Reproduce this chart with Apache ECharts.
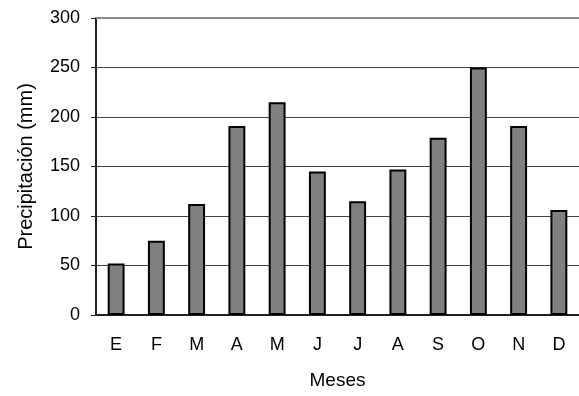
<!DOCTYPE html>
<html><head><meta charset="utf-8">
<script src="https://cdn.jsdelivr.net/npm/echarts@6/dist/echarts.min.js"></script>
<style>html,body{margin:0;padding:0;background:#fff}#c{width:579px;height:396px}</style>
</head><body><div id="c"></div>
<script>
const categories = ['E','F','M','A','M','J','J','A','S','O','N','D'];
const precipitation = [52, 75, 112, 191, 215, 145, 115, 147, 179, 250, 191, 106];
const yTicks = [0, 50, 100, 150, 200, 250, 300];

const chart = echarts.init(document.getElementById('c'));
const font = 'Liberation Sans, Arial, sans-serif';
chart.setOption({
  animation: false,
  backgroundColor: '#fff',
  grid: { left: 96, top: 18, bottom: 81, right: -3 },
  xAxis: [{
    type: 'category', data: categories,
    name: 'Meses', nameLocation: 'middle', nameGap: 56,
    nameTextStyle: { fontFamily: font, fontSize: 19, color: '#000' },
    axisLine: { lineStyle: { color: '#222', width: 2 } },
    axisTick: { show: false },
    axisLabel: { fontFamily: font, fontSize: 18, color: '#000', margin: 21 }
  }, {
    type: 'category', data: categories, position: 'top',
    axisLine: { lineStyle: { color: '#8a8a8a', width: 2 } },
    axisTick: { show: false }, axisLabel: { show: false }
  }],
  yAxis: {
    type: 'value', min: yTicks[0], max: yTicks[yTicks.length - 1], interval: 50,
    name: 'Precipitación (mm)', nameLocation: 'middle', nameGap: 60,
    nameTextStyle: { fontFamily: font, fontSize: 20, color: '#000' },
    axisLine: { show: true, lineStyle: { color: '#222', width: 2 } },
    axisTick: { show: true, length: 5, lineStyle: { color: '#222', width: 1 } },
    axisLabel: { fontFamily: font, fontSize: 18, color: '#000', margin: 16 },
    splitLine: { lineStyle: { color: '#444', width: 1 } }
  },
  series: [{
    type: 'bar', data: precipitation, barWidth: '42%',
    itemStyle: { color: '#808080', borderColor: '#000', borderWidth: 2 }
  }]
});
</script></body></html>
